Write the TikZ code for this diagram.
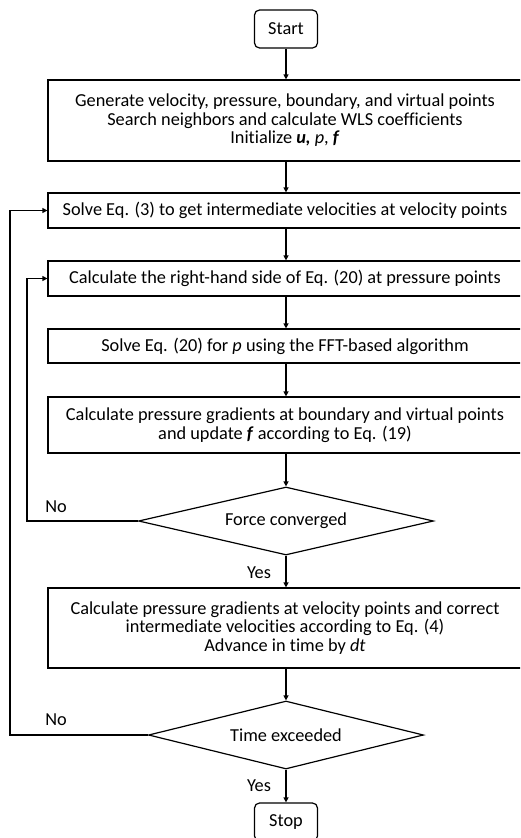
\documentclass[tikz,border=0pt]{standalone}
\usepackage{fontspec}
\setmainfont[Ligatures=NoCommon]{Carlito}
\usetikzlibrary{shapes.geometric,arrows.meta}
\begin{document}
\begin{tikzpicture}[x=1pt,y=-1pt,
  every node/.style={font=\fontsize{18.3}{18.6}\selectfont},
  box/.style={draw,line width=1.2pt,minimum width=474pt,inner sep=0pt,align=center},
  term/.style={draw,line width=1.2pt,rounded corners=5pt,minimum width=63pt,minimum height=38pt,inner sep=0pt},
  dec/.style={draw,diamond,line width=1.2pt,inner sep=0pt},
  lab/.style={inner sep=0pt},
  arr/.style={line width=1.2pt,-{Triangle[length=5pt,width=5pt]}},
  ln/.style={line width=1.2pt}]
\useasboundingbox (0,0) rectangle (520,838);
\clip (0,0) rectangle (520,838);
\node[term] (start) at (286,29) {Start};
\node[box,minimum height=81pt] (b1) at (285,120.5) {Generate velocity, pressure, boundary, and virtual points\\Search neighbors and calculate WLS coefficients\\Initialize \textbf{\textit{u,}} \textit{p}, \textbf{\textit{f}}};
\node[box,minimum height=35pt] (b2) at (285,210.5) {Solve Eq. (3) to get intermediate velocities at velocity points};
\node[box,minimum height=35pt] (b3) at (285,278.5) {Calculate the right-hand side of Eq. (20) at pressure points};
\node[box,minimum height=34pt] (b4) at (285,346) {Solve Eq. (20) for \textit{p} using the FFT-based algorithm};
\node[box,minimum height=56pt] (b5) at (285,425) {Calculate pressure gradients at boundary and virtual points\\and update \textbf{\textit{f}} according to Eq. (19)};
\node[dec,aspect=4.3,minimum width=295pt,minimum height=68pt] (d1) at (286,521) {Force converged};
\node[box,minimum height=80pt] (b6) at (285,628) {Calculate pressure gradients at velocity points and correct\\intermediate velocities according to Eq. (4)\\Advance in time by \textit{dt}};
\node[dec,aspect=4.0,minimum width=275pt,minimum height=68pt] (d2) at (286,735) {Time exceeded};
\node[term] (stop) at (286,822) {Stop};
\coordinate (c1) at (27,521);
\coordinate (c2) at (10,735);
\draw[arr] (start.south) -- (start.south |- b1.north);
\draw[arr] (start.south |- b1.south) -- (start.south |- b2.north);
\draw[arr] (start.south |- b2.south) -- (start.south |- b3.north);
\draw[arr] (start.south |- b3.south) -- (start.south |- b4.north);
\draw[arr] (start.south |- b4.south) -- (start.south |- b5.north);
\draw[arr] (start.south |- b5.south) -- (d1.north);
\draw[arr] (d1.south) -- (start.south |- b6.north);
\draw[arr] (start.south |- b6.south) -- (d2.north);
\draw[arr] (d2.south) -- (stop.north);
\draw[arr] (d1.west) -- (c1) |- (b3.west);
\draw[arr] (d2.west) -- (c2) |- (b2.west);
\node[lab] (no1) at (56,507) {No};
\node[lab] (no2) at (56,720) {No};
\node[lab] (yes1) at (259,573) {Yes};
\node[lab] (yes2) at (259,786) {Yes};
\end{tikzpicture}
\end{document}
